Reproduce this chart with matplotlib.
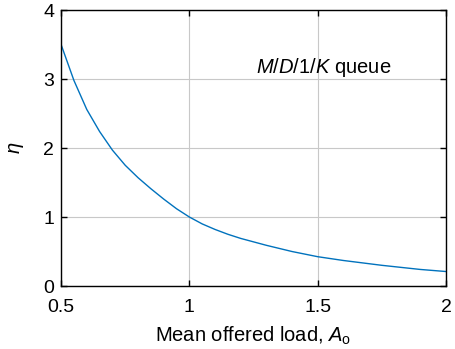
import matplotlib
matplotlib.use("Agg")
import matplotlib.pyplot as plt

plt.rcParams["font.family"] = ["Liberation Sans", "DejaVu Sans"]
plt.rcParams["mathtext.fontset"] = "custom"
plt.rcParams["mathtext.rm"] = "Liberation Sans"
plt.rcParams["mathtext.it"] = "Liberation Sans:italic"

# mean offered load and normalised value for the M/D/1/K queue
load = [0.5, 0.55, 0.6, 0.65, 0.7, 0.75, 0.8, 0.85, 0.9, 0.95, 1.0, 1.05, 1.1,
        1.15, 1.2, 1.25, 1.3, 1.4, 1.5, 1.6, 1.75, 1.9, 2.0]
eta = [3.5, 2.98, 2.56, 2.24, 1.97, 1.75, 1.57, 1.41, 1.26, 1.12, 1.0, 0.9, 0.82,
       0.75, 0.69, 0.64, 0.59, 0.50, 0.425, 0.37, 0.30, 0.24, 0.21]

xticks = [0.5, 1, 1.5, 2]
xticklabels = ["0.5", "1", "1.5", "2"]
yticks = [0, 1, 2, 3, 4]

fig = plt.figure(figsize=(4.56, 3.49), dpi=100)
ax = fig.add_axes([0.134, 0.1805, 0.844, 0.7905])

ax.plot(load, eta, color="#0072BD", lw=1.0)

ax.set_xlim(0.5, 2)
ax.set_ylim(0, 4)
ax.set_xticks(xticks)
ax.set_xticklabels(xticklabels)
ax.set_yticks(yticks)
ax.grid(True, color="#c8c8c8", lw=0.8)
ax.set_axisbelow(True)
ax.tick_params(direction="in", top=True, right=True, length=4, width=1.0,
               labelsize=14)
ax.tick_params(axis="x", pad=9.5)
ax.tick_params(axis="y", pad=5)
for s in ax.spines.values():
    s.set_linewidth(1.0)

ax.set_xlabel("Mean offered load, $A_\\mathrm{o}$", fontsize=14.5, labelpad=6)
ax.set_ylabel("$\\eta$", fontsize=14.5, labelpad=12)
ax.text(1.525, 3.17, "$M/D/1/K$ queue", fontsize=14.5, ha="center", va="center")

fig.savefig("out.png", dpi=100)
